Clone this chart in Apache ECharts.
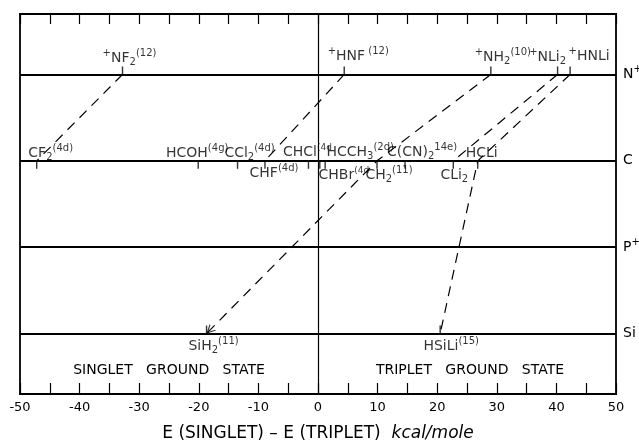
<!DOCTYPE html>
<html>
<head>
<meta charset="utf-8">
<script src="https://cdn.jsdelivr.net/npm/echarts@6/dist/echarts.min.js"></script>
<style>html,body{margin:0;padding:0;background:#fff}#c{width:639px;height:441px}</style>
</head>
<body>
<div id="c"></div>
<script>
// ---------- data ----------
const levelNames = ['Si', 'P+', 'C', 'N+'];           // y = index + 1
const xTicks = [-50, -40, -30, -20, -10, 0, 10, 20, 30, 40, 50];

const nPlusNames  = ['NF2', 'HNF', 'NH2', 'NLi2', 'HNLi'];
const nPlusValues = [-32.8, 4.4, 29.0, 40.2, 42.3];

const cNames  = ['CF2', 'HCOH', 'CCl2', 'CHF', 'CHCl', 'CHBr', 'HCCH3', 'CH2', 'C(CN)2', 'CLi2', 'HCLi'];
const cValues = [-47.2, -20.1, -13.5, -8.9, -1.6, 0.3, 1.2, 9.9, 14.6, 22.7, 26.8];

const siNames  = ['SiH2', 'HSiLi'];
const siValues = [-18.7, 20.5];

// isoelectronic correlations (dashed lines)
const correlations = [
  ['NF2', 'CF2'],
  ['HNF', 'CHF'],
  ['NH2', 'CH2', 'SiH2'],
  ['NLi2', 'CLi2'],
  ['HNLi', 'HCLi', 'HSiLi']
];

// label texts (rich markup)
const labelText = {
  'NF2':   '{sp|+}{m|NF}{sb|2}{sp|(12)}',
  'HNF':   '{sp|+}{m|HNF}{sp| (12)}',
  'NH2':   '{sp|+}{m|NH}{sb|2}{sp|(10)}',
  'NLi2':  '{sp|+}{m|NLi}{sb|2}',
  'HNLi':  '{sp|+}{m|HNLi}',
  'CF2':   '{m|CF}{sb|2}{sp|(4d)}',
  'HCOH':  '{m|HCOH}{sp|(4g)}',
  'CCl2':  '{m|CCl}{sb|2}{sp|(4d)}',
  'CHF':   '{m|CHF}{sp|(4d)}',
  'CHCl':  '{m|CHCl}{sp|(4d}',
  'CHBr':  '{m|CHBr}{sp|(4d}',
  'HCCH3': '{m|HCCH}{sb|3}{sp|(2d)}',
  'CH2':   '{m|CH}{sb|2}{sp|(11)}',
  'C(CN)2':'{m|C(CN)}{sb|2}{sp|14e)}',
  'CLi2':  '{m|CLi}{sb|2}',
  'HCLi':  '{m|HCLi}',
  'SiH2':  '{m|SiH}{sb|2}{sp|(11)}',
  'HSiLi': '{m|HSiLi}{sp|(15)}'
};
</script>
<script>
// ---------- layout / styles ----------
const labelOffset = {
  'NF2': [7, -16], 'HNF': [14, -18], 'NH2': [12, -17], 'NLi2': [-10, -17], 'HNLi': [19, -18],
  'CF2': [14, -7], 'HCOH': [-1, -7], 'CCl2': [12, -7], 'CHCl': [-1, -8], 'HCCH3': [35, -8],
  'C(CN)2': [17, -8], 'HCLi': [4, -7],
  'CHF': [9, 13], 'CHBr': [24, 15], 'CH2': [12, 15], 'CLi2': [1, 15],
  'SiH2': [7, 13], 'HSiLi': [11, 13]
};
const FONT = 'DejaVu Sans';
const rich = {
  m:  {fontFamily: FONT, fontSize: 14, color: '#000'},
  sb: {fontFamily: FONT, fontSize: 10, color: '#000', padding: [8, 0, 0, 0]},
  sp: {fontFamily: FONT, fontSize: 10, color: '#000', padding: [0, 0, 10, 0]}
};
const richTight = Object.assign({}, rich, {
  sp: {fontFamily: FONT, fontSize: 9, color: '#000', padding: [0, 0, 10, 0]}
});

const yOf = name => levelNames.indexOf(name) + 1;
const groups = [
  {level: 'N+', names: nPlusNames, values: nPlusValues, dir: 'up'},
  {level: 'C',  names: cNames,     values: cValues,     dir: 'down'},
  {level: 'Si', names: siNames,    values: siValues,    dir: 'up'}
];
const pos = {};
groups.forEach(g => g.names.forEach((n, i) => { pos[n] = [g.values[i], yOf(g.level)]; }));

const series = [];

// level lines + zero line (markLines)
series.push({
  type: 'line', data: [], silent: true,
  markLine: {
    symbol: 'none', silent: true, animation: false,
    lineStyle: {color: '#000', type: 'solid', width: 1.8},
    data: levelNames.map((n, i) => ({
      yAxis: i + 1,
      label: {
        show: true, position: 'end', distance: 7, color: '#000',
        formatter: n.endsWith('+') ? '{m|' + n.slice(0, -1) + '}{sp|+}' : '{m|' + n + '}',
        rich: rich
      }
    })).concat([{xAxis: 0, lineStyle: {width: 1.2}, label: {show: false}}])
  }
});

// dashed correlation lines
correlations.forEach(chain => {
  series.push({
    type: 'line', silent: true, animation: false,
    data: chain.map(n => pos[n]),
    showSymbol: false, symbol: 'none',
    lineStyle: {color: '#000', width: 1.2, type: [10, 7]}
  });
});

// ticks at each species
groups.forEach(g => {
  series.push({
    type: 'scatter', silent: true, animation: false,
    data: g.names.map((n, i) => [g.values[i], yOf(g.level)]),
    symbol: 'rect', symbolSize: [1.4, 8],
    symbolOffset: [0, g.dir === 'up' ? '-50%' : '50%'],
    itemStyle: {color: '#000'}
  });
});

// arrowhead at SiH2
series.push({
  type: 'scatter', silent: true, animation: false,
  data: [pos['SiH2']],
  symbol: 'path://M0,0 L-5,10 L-3.6,10 L0,2.8 L3.6,10 L5,10 Z',
  symbolSize: [9, 9], symbolRotate: 135, symbolOffset: [3, -3],
  itemStyle: {color: '#000'}
});

// labels
series.push({
  type: 'scatter', silent: true, animation: false,
  symbolSize: 1, itemStyle: {color: 'rgba(0,0,0,0)'},
  data: Object.keys(pos).map(n => ({
    value: pos[n],
    label: {
      show: true, position: 'inside', offset: labelOffset[n], color: '#000',
      textBorderWidth: 0, formatter: labelText[n],
      rich: (n === 'CHBr' || n === 'CHCl') ? richTight : rich
    }
  }))
});

const chart = echarts.init(document.getElementById('c'), null, {renderer: 'canvas'});
chart.setOption({
  animation: false,
  backgroundColor: '#fff',
  grid: {left: 20, right: 23, top: 14, bottom: 47, show: true, borderColor: '#000', borderWidth: 1.8,
         backgroundColor: 'transparent', containLabel: false, outerBoundsMode: 'none'},
  xAxis: [{
    type: 'value', min: -50, max: 50, interval: 5,
    axisLine: {show: true, lineStyle: {color: '#000', width: 1.8}},
    axisTick: {show: true, inside: true, length: 11, lineStyle: {color: '#000', width: 1.2}},
    splitLine: {show: false},
    axisLabel: {
      color: '#000', fontFamily: FONT, fontSize: 13, margin: 7,
      formatter: v => xTicks.indexOf(v) >= 0 ? String(v) : ''
    },
    name: '{a|E (SINGLET) – E (TRIPLET)  }{b|kcal/mole}',
    nameLocation: 'middle', nameGap: 31,
    nameTextStyle: {
      rich: {
        a: {fontFamily: FONT, fontSize: 17, color: '#000'},
        b: {fontFamily: FONT, fontSize: 17, color: '#000', fontStyle: 'italic'}
      }
    }
  }, {
    type: 'value', position: 'top', min: -50, max: 50, interval: 5,
    axisLine: {show: true, lineStyle: {color: '#000', width: 1.8}},
    axisTick: {show: true, inside: true, length: 10, lineStyle: {color: '#000', width: 1.2}},
    axisLabel: {show: false}, splitLine: {show: false}
  }],
  yAxis: {
    type: 'value', min: 0.3, max: 4.7,
    show: false, splitLine: {show: false}
  },
  graphic: [
    {type: 'text', x: 169, y: 370, style: {text: 'SINGLET   GROUND   STATE', fontFamily: FONT, fontSize: 14, fill: '#000', align: 'center', verticalAlign: 'middle'}},
    {type: 'text', x: 470, y: 370, style: {text: 'TRIPLET   GROUND   STATE', fontFamily: FONT, fontSize: 14, fill: '#000', align: 'center', verticalAlign: 'middle'}}
  ],
  series: series
});
</script>
</body>
</html>
